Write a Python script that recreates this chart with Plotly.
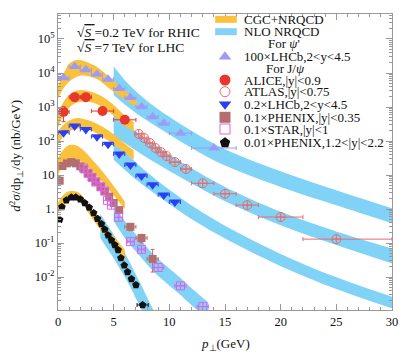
import plotly.graph_objects as go

# ---------------- data ----------------
# psi' LHCb, scaled x100
psi_lhcb_pt = [0.5, 1.5, 2.5, 3.5, 4.5, 5.5, 6.5, 7.5, 8.5, 9.5, 11, 14]
psi_lhcb_val = [7300, 15600, 12400, 9200, 6600, 3500, 1900, 1020, 520, 330, 170, 62]
psi_lhcb_dpt = [0.5, 0.5, 0.5, 0.5, 0.5, 0.5, 0.5, 0.5, 0.5, 0.5, 1, 2]

# J/psi ALICE |y|<0.9
alice_pt = [0.5, 1.5, 2.5, 4, 6]
alice_val = [720, 1950, 1950, 760, 420]
alice_dpt = [0.5, 0.5, 0.5, 1, 1]
alice_err_up = [300, 150, 150, 60, 40]
alice_err_dn = [350, 150, 150, 60, 40]

# J/psi ATLAS |y|<0.75
atlas_pt = [7.25, 7.75, 8.25, 8.75, 9.25, 9.75, 10.5, 11.5, 13, 15, 17, 20, 25]
atlas_val = [161, 122, 87, 62, 47, 36, 24, 15, 5.7, 2.8, 1.3, 0.58, 0.13]
atlas_dpt_up = [0.25, 0.25, 0.25, 0.25, 0.25, 0.25, 0.5, 0.5, 1, 1, 1, 2, 5]
atlas_dpt_dn = [0.25, 0.25, 0.25, 0.25, 0.25, 0.25, 0.5, 0.5, 1, 1, 1, 2, 3]

# J/psi LHCb, scaled x0.2
jpsi_lhcb_pt = [0.5, 1.5, 2.5, 3.5, 4.5, 5.5, 6.5, 7.5, 8.5, 9.5, 10.5]
jpsi_lhcb_val = [175, 276, 219, 134, 80, 41.5, 19.6, 9.3, 5.2, 2.6, 1.6]

# J/psi PHENIX |y|<0.35, scaled x0.1
phenix_pt = [0.15, 0.4, 0.8, 1.2, 1.6, 2.0, 2.35, 2.7, 3.05, 3.4, 3.85, 4.2, 4.6, 5.0, 5.5, 6.5, 7.5, 8.5]
phenix_val = [6.8, 18.4, 22, 24, 22, 18, 14.7, 11.3, 8.6, 6.4, 4.5, 3.3, 2.3, 1.5, 0.93, 0.30, 0.14, 0.034]
phenix_dpt = [0, 0, 0, 0, 0, 0, 0, 0, 0, 0, 0, 0, 0, 0, 0.25, 0.5, 0.5, 0.5]
phenix_err_up = [0, 0, 0, 0, 0, 0, 0, 0, 0, 0, 0, 0, 0, 0, 0.1, 0.07, 0.04, 0.031]
phenix_err_dn = [0, 0, 0, 0, 0, 0, 0, 0, 0, 0, 0, 0, 0, 0, 0.1, 0.07, 0.04, 0.020]

# J/psi STAR |y|<1, scaled x0.1
star_pt = [2.3, 2.7, 3.05, 3.4, 3.85, 4.2, 4.45, 4.8, 5.45, 6.5, 7.5, 9.0, 11.0, 13.0]
star_val = [16, 11.2, 8.5, 6.2, 4.5, 3.4, 1.8, 1.3, 0.57, 0.11, 0.065, 0.019, 0.0055, 0.00135]
star_dpt = [0, 0, 0, 0, 0, 0, 0, 0, 0, 0.25, 0.25, 0.5, 0.5, 0.5]

# J/psi PHENIX 1.2<|y|<2.2, scaled x0.01
fwd_pt = [0.15, 0.35, 0.75, 1.2, 1.6, 2.0, 2.4, 2.8, 3.2, 3.55, 3.9, 4.2, 4.5, 4.8, 5.1, 5.4,
          5.65, 5.95, 6.25, 6.6, 7.0, 7.6]
fwd_val = [0.48, 1.15, 1.8, 2.2, 2.2, 1.95, 1.5, 1.1, 0.76, 0.52, 0.36, 0.25, 0.17, 0.12, 0.088, 0.062,
           0.036, 0.022, 0.014, 0.0087, 0.0058, 0.0015]
fwd_dpt = [0] * 21 + [0.5]

# CGC+NRQCD bands (log10 of lower / upper edge)
cgc_psi_pt = [0, 0.5, 1, 1.5, 2, 2.5, 3.5, 4.5, 5.5, 6.5, 7.1]
cgc_psi_lo = [3.25, 3.55, 3.74, 3.86, 3.92, 3.92, 3.82, 3.57, 3.33, 3.12, 3.0]
cgc_psi_hi = [3.62, 3.98, 4.27, 4.37, 4.38, 4.33, 4.18, 3.92, 3.62, 3.35, 3.16]

cgc_alice_pt = [0, 0.5, 1, 1.5, 2, 3, 4, 5, 6, 6.8]
cgc_alice_lo = [2.4, 2.75, 2.98, 3.1, 3.15, 3.14, 3.0, 2.75, 2.45, 2.28]
cgc_alice_hi = [2.85, 3.15, 3.35, 3.46, 3.5, 3.45, 3.3, 3.06, 2.75, 2.55]

cgc_lhcb_pt = [0, 0.5, 1, 1.5, 2, 3, 4, 5, 6, 6.8]
cgc_lhcb_lo = [1.9, 2.15, 2.28, 2.35, 2.37, 2.3, 2.12, 1.9, 1.65, 1.45]
cgc_lhcb_hi = [2.3, 2.48, 2.6, 2.66, 2.67, 2.58, 2.42, 2.2, 1.93, 1.72]

cgc_phenix_pt = [0, 0.5, 1, 1.5, 2, 3, 4, 5, 6]
cgc_phenix_lo = [1.0, 1.3, 1.42, 1.45, 1.4, 1.12, 0.78, 0.4, 0.0]
cgc_phenix_hi = [1.5, 1.75, 1.88, 1.88, 1.8, 1.48, 1.1, 0.68, 0.22]

cgc_fwd_pt = [0, 0.5, 1, 1.5, 2, 3, 4, 5, 6]
cgc_fwd_lo = [-0.1, 0.1, 0.27, 0.3, 0.25, -0.25, -0.68, -1.1, -1.55]
cgc_fwd_hi = [0.2, 0.42, 0.52, 0.52, 0.45, -0.02, -0.45, -0.8, -1.2]

# NLO NRQCD bands (log10 of lower / upper edge)
nlo_psi_pt = [5, 6, 7, 8, 10, 12.5, 15, 20, 25, 30]
nlo_psi_lo = [3.35, 3.07, 2.82, 2.60, 2.19, 1.70, 1.28, 0.65, 0.11, -0.42]
nlo_psi_hi = [4.19, 3.79, 3.46, 3.18, 2.71, 2.20, 1.76, 1.11, 0.55, 0.02]

nlo_atlas_pt = [5, 6, 7, 8, 10, 12.5, 15, 20, 25, 30]
nlo_atlas_lo = [2.17, 1.94, 1.72, 1.51, 1.12, 0.66, 0.23, -0.48, -1.06, -1.60]
nlo_atlas_hi = [2.83, 2.54, 2.28, 2.05, 1.60, 1.10, 0.65, -0.08, -0.66, -1.16]

nlo_lhcb_pt = [5, 6, 7, 8, 10, 12.5, 15, 20, 25, 30]
nlo_lhcb_lo = [1.45, 1.15, 0.87, 0.62, 0.15, -0.40, -0.87, -1.68, -2.35, -2.92]
nlo_lhcb_hi = [2.05, 1.69, 1.37, 1.08, 0.57, 0.00, -0.49, -1.32, -2.01, -2.58]

nlo_star_pt = [5, 6, 7, 8, 9, 10, 11, 12, 13.5]
nlo_star_lo = [-0.35, -0.85, -1.25, -1.63, -1.97, -2.25, -2.53, -2.83, -3.25]
nlo_star_hi = [0.15, -0.35, -0.75, -1.13, -1.47, -1.75, -2.03, -2.33, -2.75]

nlo_fwd_pt = [3.8, 4.5, 5, 5.5, 6, 6.5, 7, 7.5, 8, 8.7]
nlo_fwd_lo = [-0.85, -1.2, -1.45, -1.73, -2.0, -2.3, -2.63, -2.95, -3.3, -3.75]
nlo_fwd_hi = [-0.15, -0.5, -0.75, -1.03, -1.3, -1.6, -1.93, -2.25, -2.6, -3.05]

x_ticks = [0, 5, 10, 15, 20, 25, 30]
y_tickvals = [1e-2, 1e-1, 1, 10, 1e2, 1e3, 1e4, 1e5]
y_ticktext = ["10<sup>-2</sup>", "10<sup>-1</sup>", "1.", "10", "10<sup>2</sup>",
              "10<sup>3</sup>", "10<sup>4</sup>", "10<sup>5</sup>"]

ORANGE = "#f9c13c"
BLUE = "#80d3f6"
FONT = "Liberation Serif"

# plot area in pixels
W, H = 409, 355
L, R, T, B = 58, 11, 14, 45
PW, PH = W - L - R, H - T - B


def px_x(p):
    return (p - L) / PW


def px_y(p):
    return (H - B - p) / PH


fig = go.Figure()


def add_band(x, lo, hi, color):
    fig.add_trace(go.Scatter(x=x, y=[10 ** v for v in lo], mode="lines",
                             line=dict(width=0, shape="spline", color=color),
                             showlegend=False, hoverinfo="skip"))
    fig.add_trace(go.Scatter(x=x, y=[10 ** v for v in hi], mode="lines",
                             line=dict(width=0, shape="spline", color=color),
                             fill="tonexty", fillcolor=color,
                             showlegend=False, hoverinfo="skip"))


for x, lo, hi in [(nlo_psi_pt, nlo_psi_lo, nlo_psi_hi),
                  (nlo_atlas_pt, nlo_atlas_lo, nlo_atlas_hi),
                  (nlo_lhcb_pt, nlo_lhcb_lo, nlo_lhcb_hi),
                  (nlo_star_pt, nlo_star_lo, nlo_star_hi),
                  (nlo_fwd_pt, nlo_fwd_lo, nlo_fwd_hi)]:
    add_band(x, lo, hi, BLUE)

for x, lo, hi in [(cgc_psi_pt, cgc_psi_lo, cgc_psi_hi),
                  (cgc_alice_pt, cgc_alice_lo, cgc_alice_hi),
                  (cgc_lhcb_pt, cgc_lhcb_lo, cgc_lhcb_hi),
                  (cgc_phenix_pt, cgc_phenix_lo, cgc_phenix_hi),
                  (cgc_fwd_pt, cgc_fwd_lo, cgc_fwd_hi)]:
    add_band(x, lo, hi, ORANGE)


def add_points(x, y, symbol, color, size, xerr=None, xerr_minus=None,
               yerr=None, yerr_minus=None, line_width=0):
    ex = None
    if xerr is not None:
        ex = dict(type="data", array=xerr, arrayminus=xerr_minus if xerr_minus else xerr,
                  color=color, thickness=1, width=2)
    ey = None
    if yerr is not None:
        ey = dict(type="data", array=yerr, arrayminus=yerr_minus if yerr_minus else yerr,
                  color=color, thickness=1, width=2)
    fig.add_trace(go.Scatter(
        x=x, y=y, mode="markers", showlegend=False, hoverinfo="skip",
        marker=dict(symbol=symbol, size=size, color=color,
                    line=dict(color=color, width=line_width)),
        error_x=ex, error_y=ey))


PSI_C = "#9c9cf4"
ALICE_C = "#e8372b"
ATLAS_C = "#e96a6a"
LHCB_C = "#2b3ff2"
PHENIX_C = "#b56e6e"
STAR_C = "#dd62ee"
FWD_C = "#111111"

add_points(psi_lhcb_pt, psi_lhcb_val, "triangle-up", PSI_C, 10, xerr=psi_lhcb_dpt)
add_points(alice_pt, alice_val, "circle", ALICE_C, 10, xerr=alice_dpt,
           yerr=alice_err_up, yerr_minus=alice_err_dn)
add_points(atlas_pt, atlas_val, "circle-cross-open", ATLAS_C, 9, xerr=atlas_dpt_up,
           xerr_minus=atlas_dpt_dn, line_width=1)
add_points(jpsi_lhcb_pt, jpsi_lhcb_val, "triangle-down", LHCB_C, 10, xerr=[0.5] * len(jpsi_lhcb_pt))
add_points(phenix_pt, phenix_val, "square", PHENIX_C, 8, xerr=phenix_dpt,
           yerr=phenix_err_up, yerr_minus=phenix_err_dn)
add_points(star_pt, star_val, "square-cross-open", STAR_C, 8, xerr=star_dpt, line_width=1)
add_points(fwd_pt, fwd_val, "pentagon", FWD_C, 8, xerr=fwd_dpt)

# ---------------- legend (drawn by hand on an overlay axis) ----------------
leg_rows = [19.3, 31.7, 43.3, 56.7, 68.3, 80, 91.7, 104.3, 117.3, 129, 142.7]
leg_labels = ["CGC+NRQCD", "NLO NRQCD", None, "100×LHCb,2<y<4.5", None,
              "ALICE,|y|<0.9", "ATLAS,|y|<0.75", "0.2×LHCb,2<y<4.5",
              "0.1×PHENIX,|y|<0.35", "0.1×STAR,|y|<1", "0.01×PHENIX,1.2<|y|<2.2"]
leg_marks = [None, None, None, ("triangle-up", PSI_C, 0), None,
             ("circle", ALICE_C, 0), ("circle-open", ATLAS_C, 1), ("triangle-down", LHCB_C, 0),
             ("square", PHENIX_C, 0), ("square-open", STAR_C, 1), ("pentagon", FWD_C, 0)]

for row, mk in zip(leg_rows, leg_marks):
    if mk is None:
        continue
    sym, col, lw = mk
    fig.add_trace(go.Scatter(x=[px_x(228)], y=[px_y(row)], xaxis="x2", yaxis="y2",
                             mode="markers", showlegend=False, hoverinfo="skip",
                             marker=dict(symbol=sym, size=11 if lw == 0 else 10, color=col,
                                         line=dict(color=col, width=lw))))

for row, col in [(leg_rows[0], ORANGE), (leg_rows[1], BLUE)]:
    fig.add_shape(type="rect", xref="paper", yref="paper",
                  x0=px_x(218), x1=px_x(240), y0=px_y(row + 3.5), y1=px_y(row - 3.5),
                  fillcolor=col, line=dict(width=0))

annotations = []
for row, lab in zip(leg_rows, leg_labels):
    if lab is None:
        continue
    annotations.append(dict(x=px_x(245), y=px_y(row), xref="paper", yref="paper",
                            text=lab, showarrow=False, xanchor="left", yanchor="middle",
                            font=dict(family=FONT, size=13, color="#111")))
annotations.append(dict(x=px_x(270), y=px_y(leg_rows[2]), xref="paper", yref="paper",
                        text="For <i>ψ</i>'", showarrow=False, xanchor="left", yanchor="middle",
                        font=dict(family=FONT, size=13, color="#111")))
annotations.append(dict(x=px_x(268), y=px_y(leg_rows[4]), xref="paper", yref="paper",
                        text="For J/<i>ψ</i>", showarrow=False, xanchor="left", yanchor="middle",
                        font=dict(family=FONT, size=13, color="#111")))

for row, lab in [(32, "√<span style='text-decoration:overline'><i>S</i> </span>=0.2 TeV for RHIC"),
                 (47, "√<span style='text-decoration:overline'><i>S</i> </span>=7 TeV for LHC")]:
    annotations.append(dict(x=px_x(75), y=px_y(row), xref="paper", yref="paper",
                            text=lab, showarrow=False, xanchor="left", yanchor="middle",
                            font=dict(family=FONT, size=13.5, color="#111")))

annotations.append(dict(x=0.5, y=px_y(344), xref="paper", yref="paper",
                        text="<i>p</i><sub>⊥</sub>(GeV)", showarrow=False,
                        xanchor="center", yanchor="middle",
                        font=dict(family=FONT, size=13, color="#111")))
annotations.append(dict(x=px_x(15), y=px_y(156), xref="paper", yref="paper",
                        text="<i>d</i><sup>2</sup><i>σ</i>/dp<sub>⊥</sub>/dy (nb/GeV)",
                        showarrow=False, textangle=-90, xanchor="center", yanchor="middle",
                        font=dict(family=FONT, size=13, color="#111")))

minor_y = [m * 10.0 ** k for k in range(-3, 6) for m in range(2, 10)]

fig.update_layout(
    width=W, height=H,
    margin=dict(l=L, r=R, t=T, b=B),
    paper_bgcolor="white", plot_bgcolor="white",
    showlegend=False,
    font=dict(family=FONT, size=12, color="#111"),
    annotations=annotations,
    xaxis=dict(range=[0, 30], tickvals=x_ticks, ticks="inside", ticklen=6,
               tickcolor="#999", showline=True, linecolor="#999", linewidth=1,
               mirror="ticks", showgrid=False, zeroline=False,
               tickfont=dict(family=FONT, size=12.5),
               minor=dict(dtick=1, ticks="inside", ticklen=3, tickcolor="#999", showgrid=False)),
    yaxis=dict(type="log", range=[-2.97, 5.735], tickvals=y_tickvals, ticktext=y_ticktext,
               ticks="inside", ticklen=6, tickcolor="#999", showline=True, linecolor="#999",
               linewidth=1, mirror="ticks", showgrid=False, zeroline=False,
               tickfont=dict(family=FONT, size=12.5),
               minor=dict(tickvals=minor_y, ticks="inside", ticklen=3, tickcolor="#999",
                          showgrid=False)),
    xaxis2=dict(overlaying="x", range=[0, 1], visible=False, fixedrange=True),
    yaxis2=dict(overlaying="y", range=[0, 1], visible=False, fixedrange=True),
)

# page body has a default 8px margin; remove it so the figure sits at the window origin
fig.write_html("out.html", config={"displayModeBar": False},
               post_script="document.body.style.margin='0';")
